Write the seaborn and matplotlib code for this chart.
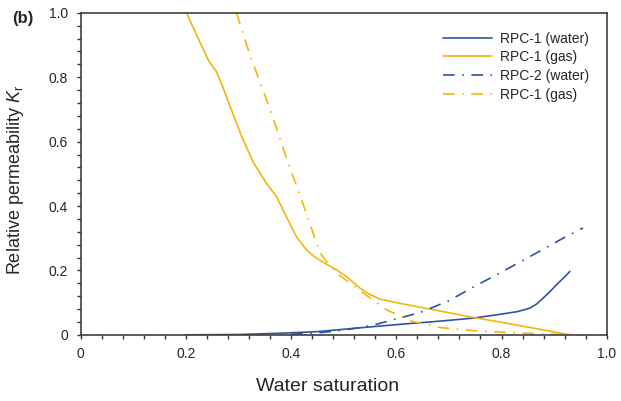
import numpy as np
import pandas as pd
import matplotlib
matplotlib.use("Agg")
import matplotlib.pyplot as plt
from matplotlib.ticker import MultipleLocator, FuncFormatter
import seaborn as sns

# values
water1_sw = [0.20, 0.30, 0.38, 0.45, 0.505, 0.56, 0.632, 0.664, 0.70, 0.746,
             0.79, 0.83, 0.854, 0.867, 0.879, 0.892, 0.904, 0.92, 0.93]
water1_kr = [0.0, 0.001, 0.005, 0.010, 0.018, 0.026, 0.036, 0.040, 0.045, 0.052,
             0.062, 0.072, 0.083, 0.096, 0.114, 0.134, 0.155, 0.180, 0.197]

gas1_sw = [0.201, 0.222, 0.242, 0.250, 0.258, 0.27, 0.284, 0.306, 0.328, 0.353,
           0.372, 0.391, 0.410, 0.429, 0.442, 0.455, 0.486, 0.505, 0.518, 0.531,
           0.550, 0.569, 0.60, 0.664, 0.746, 0.80, 0.87, 0.93]
gas1_kr = [1.0, 0.925, 0.855, 0.835, 0.818, 0.77, 0.709, 0.616, 0.536, 0.471,
           0.430, 0.367, 0.305, 0.264, 0.245, 0.231, 0.202, 0.181, 0.163, 0.145,
           0.125, 0.111, 0.100, 0.080, 0.054, 0.039, 0.018, 0.0]

water2_sw = [0.40, 0.45, 0.474, 0.50, 0.537, 0.565, 0.594, 0.645, 0.70, 0.746,
             0.80, 0.854, 0.917, 0.955]
water2_kr = [0.002, 0.006, 0.010, 0.015, 0.024, 0.034, 0.047, 0.069, 0.106, 0.148,
             0.195, 0.243, 0.300, 0.332]

gas2_sw = [0.296, 0.322, 0.360, 0.391, 0.423, 0.455, 0.470, 0.486, 0.512, 0.556,
           0.581, 0.632, 0.686, 0.746, 0.816, 0.873, 0.955]
gas2_kr = [1.0, 0.868, 0.70, 0.55, 0.405, 0.254, 0.222, 0.192, 0.161, 0.107,
           0.078, 0.041, 0.022, 0.013, 0.007, 0.003, 0.0]

labels = ["RPC-1 (water)", "RPC-1 (gas)", "RPC-2 (water)", "RPC-1 (gas)"]

blue = "#2E54A4"
gold = "#F5B50A"
dashdot = (0, (7, 4.5, 1, 4.5))

sns.set_style("ticks")
plt.rcParams["font.family"] = ["Liberation Sans", "DejaVu Sans"]
plt.rcParams["mathtext.fontset"] = "custom"
plt.rcParams["mathtext.rm"] = "Liberation Sans"
plt.rcParams["mathtext.it"] = "Liberation Sans:italic"

fig, ax = plt.subplots(figsize=(6.21, 4.01), dpi=100)
fig.subplots_adjust(left=0.130, right=0.977, bottom=0.165, top=0.968)

series = [
    (water1_sw, water1_kr, blue, "-"),
    (gas1_sw, gas1_kr, gold, "-"),
    (water2_sw, water2_kr, blue, dashdot),
    (gas2_sw, gas2_kr, gold, dashdot),
]
for (sw, kr, col, ls), lab in zip(series, labels):
    df = pd.DataFrame({"sw": sw, "kr": kr})
    sns.lineplot(data=df, x="sw", y="kr", ax=ax, color=col, lw=1.2,
                 estimator=None, sort=False, label=lab, linestyle=ls)

ax.set_xlim(0, 1)
ax.set_ylim(0, 1)
ax.xaxis.set_major_locator(MultipleLocator(0.2))
ax.xaxis.set_minor_locator(MultipleLocator(0.04))
ax.yaxis.set_major_locator(MultipleLocator(0.2))
ax.yaxis.set_minor_locator(MultipleLocator(0.04))
fmt = FuncFormatter(lambda v, p: "0" if abs(v) < 1e-9 else f"{v:.1f}")
ax.xaxis.set_major_formatter(fmt)
ax.yaxis.set_major_formatter(fmt)
ax.tick_params(which="both", direction="out", length=3, width=1,
               color="#333333", labelsize=10, pad=6)

for sp in ax.spines.values():
    sp.set_color("#404040")
    sp.set_linewidth(1.2)

ax.set_xlabel("Water saturation", fontsize=14, labelpad=14)
ax.xaxis.set_label_coords(0.47, -0.135)
ax.set_ylabel(r"Relative permeability $K_\mathrm{r}$", fontsize=13)
ax.yaxis.set_label_coords(-0.105, 0.481)

ax.legend(loc="upper left", bbox_to_anchor=(0.665, 0.98), frameon=False,
          fontsize=10, handlelength=3.5, labelspacing=0.33, handletextpad=0.6)

fig.text(0.019, 0.955, "(b)", fontsize=12, fontweight="bold", va="center")

fig.savefig("out.png", dpi=100)
